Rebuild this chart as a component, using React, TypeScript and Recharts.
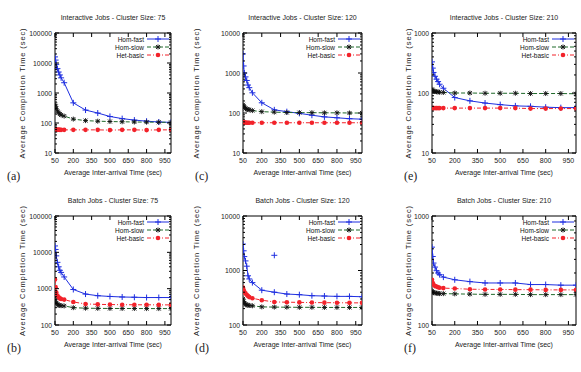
import React from "react";
import { LineChart, Line, XAxis, YAxis, ReferenceArea, Legend } from "recharts";

// inter-arrival times (sec) sampled in every panel
const interArrival = [50, 55, 60, 70, 80, 90, 100, 125, 200, 300, 400, 500, 600, 700, 800, 900, 1000];
const xTicks = [50, 200, 350, 500, 650, 800, 950];

// (a) interactive jobs, cluster size 75
const int75Fast = [16000, 12500, 9000, 6500, 5000, 4000, 3200, 2200, 470, 270, 215, 165, 140, 125, 115, 108, 105];
const int75Slow = [420, 350, 300, 250, 220, 200, 185, 170, 135, 120, 115, 112, 110, 108, 107, 106, 105];
const int75Basic = [61, 60, 60, 59, 60, 59, 59, 59, 59, 59, 59, 58, 59, 59, 58, 59, 59];

// (b) batch jobs, cluster size 75
const bat75Fast = [15000, 12000, 8000, 5300, 4000, 3200, 2800, 2100, 950, 710, 640, 610, 590, 580, 570, 570, 570];
const bat75Slow = [590, 450, 400, 370, 355, 345, 340, 335, 300, 290, 287, 285, 285, 284, 283, 283, 283];
const bat75Basic = [1800, 1100, 800, 650, 580, 540, 520, 500, 430, 380, 370, 365, 362, 360, 360, 358, 358];

// (c) interactive jobs, cluster size 120
const int120Fast = [3000, 1500, 1000, 800, 650, 500, 430, 320, 180, 120, 108, 98, 88, 80, 76, 72, 70];
const int120Slow = [160, 150, 140, 130, 125, 122, 120, 115, 108, 105, 103, 102, 102, 101, 101, 100, 100];
const int120Basic = [59, 58, 58, 58, 57, 57, 57, 57, 57, 57, 57, 57, 57, 57, 57, 57, 57];

// (d) batch jobs, cluster size 120
const bat120Fast = [3050, 2300, 1800, 1500, 1200, 800, 700, 600, 435, 400, 370, 360, 345, 340, 335, 335, 330];
const bat120Slow = [300, 270, 250, 240, 235, 230, 228, 225, 215, 213, 212, 211, 211, 210, 210, 210, 210];
const bat120Basic = [485, 440, 410, 380, 360, 340, 325, 310, 285, 265, 262, 260, 258, 257, 256, 255, 255];
const bat120Stray = [{ x: 300, fast: 1900 }];

// (e) interactive jobs, cluster size 210
const int210Fast = [330, 260, 220, 190, 170, 155, 140, 120, 84, 74, 68, 64, 61, 60, 58, 57, 57];
const int210Slow = [115, 110, 108, 106, 105, 104, 103, 102, 100, 100, 99, 99, 99, 98, 98, 98, 97];
const int210Basic = [56, 56, 56, 56, 56, 56, 56, 56, 56, 56, 56, 56, 56, 55, 55, 55, 55];

// (f) batch jobs, cluster size 210
const bat210Fast = [518, 425, 370, 340, 315, 300, 290, 275, 260, 250, 243, 243, 243, 235, 235, 232, 232];
const bat210Slow = [206, 200, 198, 197, 196, 195, 194, 194, 193, 192, 191, 191, 191, 190, 190, 190, 190];
const bat210Basic = [260, 243, 235, 228, 225, 222, 220, 218, 216, 213, 212, 212, 211, 211, 210, 210, 210];

const FONT = "'Liberation Sans', Arial, sans-serif";
const BLUE = "#1f2fe0";
const GREEN = "#1f6a2a";
const RED = "#f2222a";

const PlusDot = (p: any) =>
  p.cx == null ? null : (
    <path key={p.key} d={`M${p.cx - 3},${p.cy}h6M${p.cx},${p.cy - 3}v6`} stroke={BLUE} strokeWidth={1} />
  );
const StarDot = (p: any) =>
  p.cx == null ? null : (
    <path
      key={p.key}
      d={`M${p.cx - 2.5},${p.cy}h5M${p.cx},${p.cy - 2.5}v5M${p.cx - 2},${p.cy - 2}l4,4M${p.cx - 2},${p.cy + 2}l4,-4`}
      stroke="#111"
      strokeWidth={0.9}
    />
  );
const CircleDot = (p: any) =>
  p.cx == null ? null : <circle key={p.key} cx={p.cx} cy={p.cy} r={2.3} fill={RED} />;

const series = [
  { key: "fast", name: "Hom-fast", color: BLUE, dash: undefined, dot: PlusDot },
  { key: "slow", name: "Hom-slow", color: GREEN, dash: "4 2", dot: StarDot },
  { key: "basic", name: "Het-basic", color: RED, dash: "4 2 1 2", dot: CircleDot },
];

function LegendBox() {
  return (
    <div style={{ fontFamily: FONT, fontSize: 6.5, color: "#111" }}>
      {series.map((s) => (
        <div key={s.key} style={{ display: "flex", justifyContent: "flex-end", alignItems: "center", height: 8 }}>
          <span style={{ marginRight: 3 }}>{s.name}</span>
          <svg width={22} height={8}>
            <line x1={0} x2={22} y1={4} y2={4} stroke={s.color} strokeDasharray={s.dash} />
            {s.dot({ cx: 11, cy: 4, key: s.key })}
          </svg>
        </div>
      ))}
    </div>
  );
}

const isDecade = (v: number) => /^10*$/.test(String(v));

function decadeTicks(lo: number, hi: number) {
  const out: number[] = [];
  for (let d = lo; d < hi; d *= 10) for (let m = 1; m < 10; m++) out.push(d * m);
  out.push(hi);
  return out;
}

type Panel = {
  tag: string;
  title: string;
  lo: number;
  hi: number;
  fast: number[];
  slow: number[];
  basic: number[];
  col: number;
  row: number;
  stray?: { x: number; fast: number }[];
};

// frame left, frame right, y-title distance from frame, panel tag x
const COLS = [
  { l: 55, r: 171, yt: 33, tag: 7 },
  { l: 243, r: 362, yt: 47, tag: 195 },
  { l: 432, r: 576, yt: 24, tag: 404 },
];
// frame top, frame bottom
const ROWS = [
  { t: 33, b: 153 },
  { t: 216, b: 325 },
];

const panels: Panel[] = [
  { tag: "(a)", title: "Interactive Jobs - Cluster Size: 75", lo: 10, hi: 100000, fast: int75Fast, slow: int75Slow, basic: int75Basic, col: 0, row: 0 },
  { tag: "(c)", title: "Interactive Jobs - Cluster Size: 120", lo: 10, hi: 10000, fast: int120Fast, slow: int120Slow, basic: int120Basic, col: 1, row: 0 },
  { tag: "(e)", title: "Interactive Jobs - Cluster Size: 210", lo: 10, hi: 1000, fast: int210Fast, slow: int210Slow, basic: int210Basic, col: 2, row: 0 },
  { tag: "(b)", title: "Batch Jobs - Cluster Size: 75", lo: 100, hi: 100000, fast: bat75Fast, slow: bat75Slow, basic: bat75Basic, col: 0, row: 1 },
  { tag: "(d)", title: "Batch Jobs - Cluster Size: 120", lo: 100, hi: 10000, fast: bat120Fast, slow: bat120Slow, basic: bat120Basic, col: 1, row: 1, stray: bat120Stray },
  { tag: "(f)", title: "Batch Jobs - Cluster Size: 210", lo: 100, hi: 1000, fast: bat210Fast, slow: bat210Slow, basic: bat210Basic, col: 2, row: 1 },
];

const AXIS_W = 56;
const TOP = 20;
const BOTTOM = 30;
const RIGHT = 4;

function PanelChart({ p }: { p: Panel }) {
  const c = COLS[p.col];
  const r = ROWS[p.row];
  const left = c.l - AXIS_W;
  const top = r.t - TOP;
  const width = c.r - left + RIGHT;
  const height = r.b - top + BOTTOM;
  const plotRight = width - RIGHT;
  const rows = interArrival.map((x, i) => ({ x, fast: p.fast[i], slow: p.slow[i], basic: p.basic[i] }));

  const XTick = (t: any) => (
    <g>
      <line x1={t.x} x2={t.x} y1={t.y} y2={t.y - 4} stroke="#000" />
      <line x1={t.x} x2={t.x} y1={TOP} y2={TOP + 4} stroke="#000" />
      <text x={t.x} y={t.y + 10} textAnchor="middle" fontSize={7} fontFamily={FONT} fill="#222">
        {t.payload.value}
      </text>
    </g>
  );
  const YTick = (t: any) => {
    const major = isDecade(t.payload.value);
    const len = major ? 4 : 2;
    return (
      <g>
        <line x1={t.x} x2={t.x + len} y1={t.y} y2={t.y} stroke="#000" />
        <line x1={plotRight} x2={plotRight - len} y1={t.y} y2={t.y} stroke="#000" />
        {major && (
          <text x={t.x - 3} y={t.y + 2.5} textAnchor="end" fontSize={6.8} fontFamily={FONT} fill="#222">
            {t.payload.value}
          </text>
        )}
      </g>
    );
  };

  return (
    <div style={{ position: "absolute", left, top }}>
      <LineChart width={width} height={height} data={rows} margin={{ top: TOP, right: RIGHT, left: 0, bottom: 0 }}>
        <XAxis
          dataKey="x"
          type="number"
          domain={[50, 1000]}
          allowDataOverflow
          ticks={xTicks}
          interval={0}
          height={BOTTOM}
          tickSize={0}
          tickMargin={0}
          tickLine={false}
          axisLine={false}
          tick={XTick}
          label={{ value: "Average Inter-arrival Time (sec)", position: "insideBottom", offset: 8, style: { fontSize: 7, fontFamily: FONT, fill: "#222" } }}
        />
        <YAxis
          type="number"
          scale="log"
          domain={[p.lo, p.hi]}
          allowDataOverflow
          ticks={decadeTicks(p.lo, p.hi)}
          interval={0}
          width={AXIS_W}
          tickSize={0}
          tickMargin={0}
          tickLine={false}
          axisLine={false}
          tick={YTick}
          label={{ value: "Average Completion Time (sec)", angle: -90, position: "center", dx: AXIS_W / 2 - c.yt, style: { fontSize: 7.5, fontFamily: FONT, fill: "#222", letterSpacing: 0.9 } }}
        />
        <ReferenceArea x1={50} x2={1000} y1={p.lo} y2={p.hi} fill="none" stroke="#000" strokeWidth={1} ifOverflow="visible" />
        {series.map((s) => (
          <Line
            key={s.key}
            dataKey={s.key}
            name={s.name}
            stroke={s.color}
            strokeWidth={1}
            strokeDasharray={s.dash}
            dot={s.dot}
            isAnimationActive={false}
          />
        ))}
        {p.stray && (
          <Line data={p.stray} dataKey="fast" stroke="none" dot={PlusDot} legendType="none" isAnimationActive={false} />
        )}
        <Legend
          layout="horizontal"
          verticalAlign="middle"
          align="center"
          content={() => <LegendBox />}
          wrapperStyle={{ top: TOP + 2, right: RIGHT + 2, left: "auto", width: "auto" }}
        />
      </LineChart>
    </div>
  );
}

export default function App() {
  return (
    <div style={{ position: "absolute", left: 0, top: 0, width: 581, height: 372, background: "#fff", overflow: "hidden" }}>
      {panels.map((p) => {
        const c = COLS[p.col];
        const r = ROWS[p.row];
        return (
          <React.Fragment key={p.tag}>
            <div
              style={{
                position: "absolute",
                left: (c.l + c.r) / 2,
                top: r.t - 19,
                transform: "translateX(-50%)",
                whiteSpace: "nowrap",
                fontFamily: FONT,
                fontSize: 7,
                color: "#222",
              }}
            >
              {p.title}
            </div>
            <div
              style={{
                position: "absolute",
                left: c.tag,
                top: r.b + 16,
                fontFamily: "'Liberation Serif', serif",
                fontSize: 12,
                color: "#222",
              }}
            >
              {p.tag}
            </div>
            <PanelChart p={p} />
          </React.Fragment>
        );
      })}
    </div>
  );
}
